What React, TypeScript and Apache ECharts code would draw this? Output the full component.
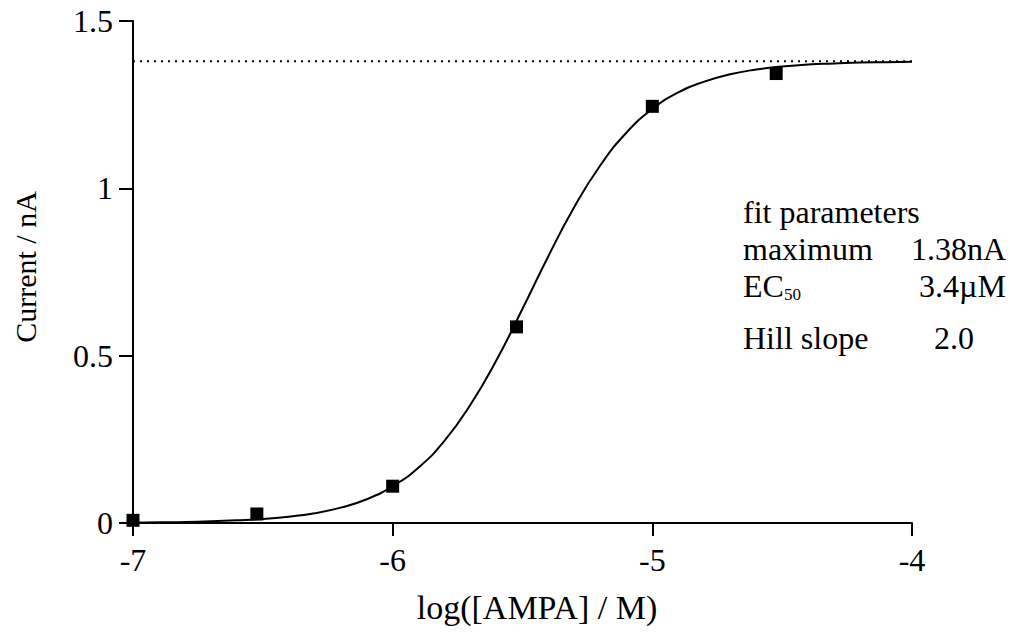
import React, { useEffect, useRef } from "react";
import * as echarts from "echarts";

// measured data points: log([AMPA]/M) vs current (nA)
const dataLogConc = [-7, -6.523, -6, -5.523, -5, -4.523];
const dataCurrent = [0.008, 0.027, 0.11, 0.586, 1.245, 1.343];

// fitted curve
const curveLogConc = [-7, -6.9, -6.8, -6.7, -6.6, -6.5, -6.4, -6.3, -6.2, -6.1, -6.0, -5.9, -5.8, -5.7, -5.6, -5.5, -5.4, -5.3, -5.2, -5.1, -5.0, -4.9, -4.8, -4.7, -4.6, -4.5, -4.4, -4.3, -4.2, -4.1, -4.0];
const curveCurrent = [0.001, 0.002, 0.003, 0.005, 0.008, 0.012, 0.019, 0.029, 0.046, 0.071, 0.11, 0.166, 0.246, 0.354, 0.487, 0.64, 0.798, 0.945, 1.069, 1.166, 1.237, 1.287, 1.319, 1.341, 1.355, 1.364, 1.37, 1.373, 1.376, 1.377, 1.378];

const maximumLevel = 1.38;
const xRange = [-7, -4];
const yRange = [0, 1.5];

const xTitle = "log([AMPA] / M)";
const yTitle = "Current / nA";
const paramTitle = "fit parameters";
const paramLabels = ["maximum", "EC", "Hill slope"];
const paramValues = ["1.38nA", "3.4\u00b5M", "2.0"];

const FONT = "'Liberation Serif', 'Times New Roman', serif";

export default function App() {
  const ref = useRef<HTMLDivElement>(null);
  useEffect(() => {
    if (!ref.current) return;
    const chart = echarts.init(ref.current, undefined, { renderer: "svg" });
    const txt = (text: string, x: number, y: number, size = 32, extra: any = {}) => ({
      type: "text",
      x,
      y,
      style: {
        text,
        fill: "#000",
        font: `${size}px ${FONT}`,
        textVerticalAlign: "middle",
        ...extra,
      },
    });
    chart.setOption({
      animation: false,
      backgroundColor: "#fff",
      grid: { left: 133, right: 98, top: 21, bottom: 111, containLabel: false },
      xAxis: {
        type: "value",
        min: xRange[0],
        max: xRange[1],
        interval: 1,
        axisLine: { onZero: true, lineStyle: { color: "#000", width: 2 } },
        axisTick: { show: true, length: 13, lineStyle: { color: "#000", width: 2 } },
        axisLabel: { color: "#000", fontSize: 32, fontFamily: FONT, margin: 21 },
        splitLine: { show: false },
      },
      yAxis: {
        type: "value",
        min: yRange[0],
        max: yRange[1],
        interval: 0.5,
        axisLine: { show: true, lineStyle: { color: "#000", width: 2 } },
        axisTick: { show: true, length: 14, lineStyle: { color: "#000", width: 2 } },
        axisLabel: { color: "#000", fontSize: 32, fontFamily: FONT, margin: 20 },
        splitLine: { show: false },
      },
      series: [
        {
          type: "line",
          data: [
            [xRange[0], maximumLevel],
            [xRange[1], maximumLevel],
          ],
          showSymbol: false,
          lineStyle: { color: "#000", width: 2, type: [2, 5] },
          silent: true,
        },
        {
          type: "line",
          data: curveLogConc.map((x, i) => [x, curveCurrent[i]]),
          smooth: true,
          showSymbol: false,
          lineStyle: { color: "#000", width: 2 },
          silent: true,
        },
        {
          type: "scatter",
          data: dataLogConc.map((x, i) => [x, dataCurrent[i]]),
          symbol: "rect",
          symbolSize: 13,
          itemStyle: { color: "#000", opacity: 1 },
        },
      ],
      graphic: [
        txt(xTitle, 537, 607, 34, { textAlign: "center" }),
        {
          type: "text",
          x: 25,
          y: 267,
          rotation: Math.PI / 2,
          style: {
            text: yTitle,
            fill: "#000",
            font: `30px ${FONT}`,
            textAlign: "center",
            textVerticalAlign: "middle",
          },
        },
        txt(paramTitle, 743, 212),
        txt(paramLabels[0], 743, 249),
        txt(paramValues[0], 1006, 249, 32, { textAlign: "right" }),
        txt(paramLabels[1], 743, 286),
        txt("50", 784, 294, 17),
        txt(paramValues[1], 1006, 286, 32, { textAlign: "right" }),
        txt(paramLabels[2], 743, 338),
        txt(paramValues[2], 974, 338, 32, { textAlign: "right" }),
      ],
    });
    return () => chart.dispose();
  }, []);
  return (
    <div
      ref={ref}
      style={{ position: "fixed", left: 0, top: 0, width: 1010, height: 634, background: "#fff" }}
    />
  );
}
